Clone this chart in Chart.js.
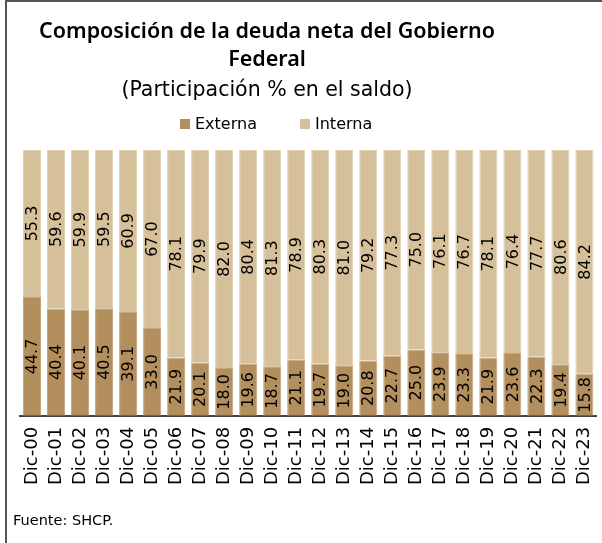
<!DOCTYPE html>
<html>
<head>
<meta charset="utf-8">
<script src="https://cdn.jsdelivr.net/npm/chart.js@4"></script>
<style>
  body { margin: 0; background: #fff; overflow: hidden; }
  #box { position: relative; width: 597px; height: 543px; box-sizing: border-box; border-left: 2px solid #555; border-top: 2px solid #555; margin-left: 5px; }
  #wrap { position: absolute; left: 0; top: 0; width: 602px; height: 541px; }
  .txt { position: absolute; left: -7px; width: 534px; text-align: center; color: #000; white-space: nowrap; }
  #titulo { top: 14px; font-family: "Noto Sans", sans-serif; font-weight: 600; font-size: 21.5px; line-height: 28px; }
  #subtitulo { top: 73px; font-family: "DejaVu Sans", sans-serif; font-size: 20.5px; line-height: 28px; }
  #leyenda { position: absolute; top: 112px; left: 0; font-family: "DejaVu Sans", sans-serif; font-size: 16px; line-height: 20px; }
  #leyenda span.item { position: absolute; white-space: nowrap; }
  #leyenda i { display: inline-block; width: 10px; height: 10px; margin-right: 5px; vertical-align: 0px; }
  #fuente { position: absolute; left: 6px; top: 510px; font-family: "DejaVu Sans", sans-serif; font-size: 14.5px; color: #000; }
</style>
</head>
<body>
<div id="box">
  <div id="wrap"><canvas id="myChart"></canvas></div>
  <div id="titulo" class="txt">Composición de la deuda neta del Gobierno<br>Federal</div>
  <div id="subtitulo" class="txt">(Participación % en el saldo)</div>
  <div id="leyenda"></div>
  <div id="fuente">Fuente: SHCP.</div>
</div>
<script>
// Datos del gráfico
const categorias = ['Dic-00','Dic-01','Dic-02','Dic-03','Dic-04','Dic-05','Dic-06','Dic-07','Dic-08','Dic-09','Dic-10','Dic-11',
  'Dic-12','Dic-13','Dic-14','Dic-15','Dic-16','Dic-17','Dic-18','Dic-19','Dic-20','Dic-21','Dic-22','Dic-23'];
const externa = [44.7,40.4,40.1,40.5,39.1,33.0,21.9,20.1,18.0,19.6,18.7,21.1,19.7,19.0,20.8,22.7,25.0,23.9,23.3,21.9,23.6,22.3,19.4,15.8];
const interna = [55.3,59.6,59.9,59.5,60.9,67.0,78.1,79.9,82.0,80.4,81.3,78.9,80.3,81.0,79.2,77.3,75.0,76.1,76.7,78.1,76.4,77.7,80.6,84.2];

const FONT = 'DejaVu Sans';

// Etiquetas verticales dentro de cada segmento
const etiquetas = {
  id: 'etiquetas',
  afterDatasetsDraw(chart) {
    const ctx = chart.ctx;
    ctx.save();
    ctx.font = '16px "' + FONT + '"';
    ctx.fillStyle = '#000';
    ctx.textAlign = 'center';
    ctx.textBaseline = 'middle';
    chart.data.datasets.forEach((ds, i) => {
      chart.getDatasetMeta(i).data.forEach((bar, j) => {
        const y = (bar.y + bar.base) / 2;
        ctx.save();
        ctx.translate(bar.x, y);
        ctx.rotate(-Math.PI / 2);
        ctx.fillText(ds.data[j].toFixed(1), 0, 1);
        ctx.restore();
      });
    });
    ctx.restore();
  }
};

const ctx = document.getElementById('myChart').getContext('2d');
const myChart = new Chart(ctx, {
  type: 'bar',
  data: {
    labels: categorias,
    datasets: [
      { label: 'Externa', data: externa, backgroundColor: '#B38F5E', borderColor: '#C4A57C', borderWidth: 1 },
      { label: 'Interna', data: interna, backgroundColor: '#D5C09A', borderColor: '#E0CFB0', borderWidth: 1 }
    ]
  },
  options: {
    responsive: true,
    maintainAspectRatio: false,
    animation: false,
    layout: { padding: { left: 13, right: 0, top: 148, bottom: 55 } },
    datasets: { bar: { barPercentage: 0.75, categoryPercentage: 1 } },
    plugins: {
      title: { display: false },
      legend: { display: false },
      tooltip: { enabled: false }
    },
    scales: {
      x: {
        stacked: true,
        grid: { display: false },
        border: { color: '#444', width: 2 },
        ticks: { color: '#000', font: { family: FONT, size: 18 }, maxRotation: 90, minRotation: 90, autoSkip: false }
      },
      y: { stacked: true, display: false, min: 0, max: 100 }
    }
  },
  plugins: [etiquetas]
});

// Leyenda en HTML a partir de los datasets
const leyenda = document.getElementById('leyenda');
const posLeyenda = [173, 293];
myChart.data.datasets.forEach((ds, i) => {
  const item = document.createElement('span');
  item.className = 'item';
  item.style.left = posLeyenda[i] + 'px';
  item.innerHTML = '<i style="background:' + ds.backgroundColor + '"></i>' + ds.label;
  leyenda.appendChild(item);
});
</script>
</body>
</html>
